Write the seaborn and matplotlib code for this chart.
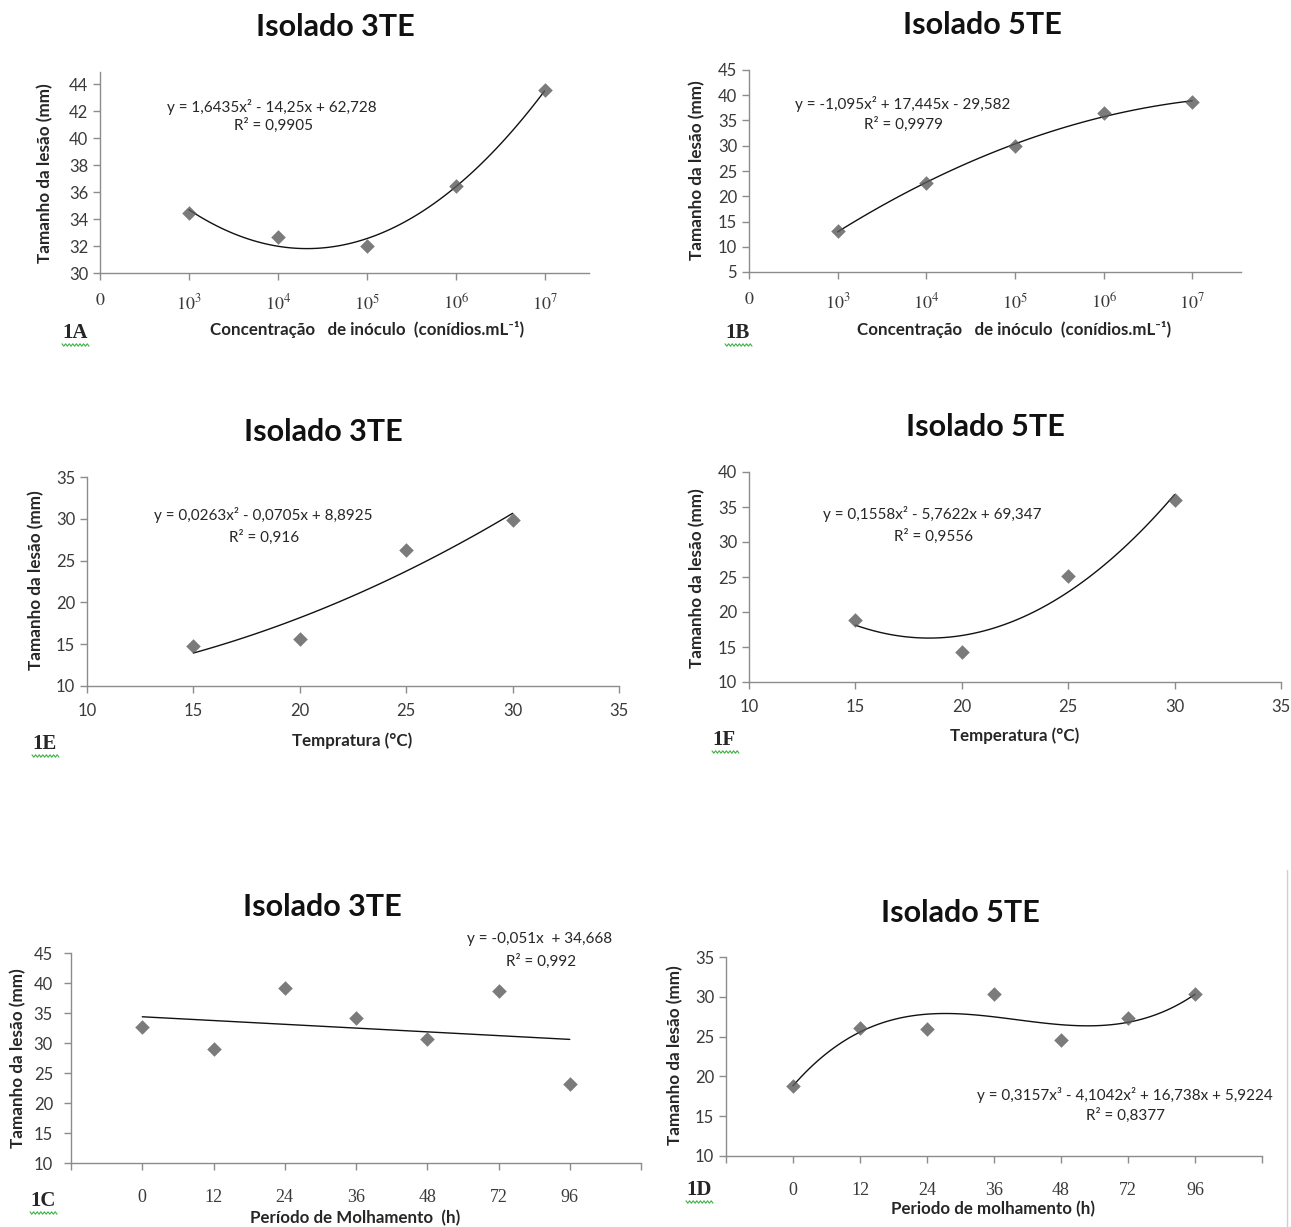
import numpy as np
import matplotlib
matplotlib.use("Agg")
import matplotlib.pyplot as plt
import seaborn as sns
from matplotlib.lines import Line2D

# 1A / 1B - concentracao de inoculo (expoente de 10)
conc_exp = [3, 4, 5, 6, 7]
conc_labels = ['$0$', '$10^{3}$', '$10^{4}$', '$10^{5}$', '$10^{6}$', '$10^{7}$']
lesao_conc_3te = [34.45, 32.65, 32.0, 36.45, 43.55]
lesao_conc_5te = [13.1, 22.6, 29.9, 36.5, 38.6]

# 1E / 1F - temperatura
temp = [15, 20, 25, 30]
lesao_temp_3te = [14.8, 15.6, 26.3, 29.8]
lesao_temp_5te = [18.9, 14.3, 25.2, 36.0]

# 1C / 1D - periodo de molhamento
molh_labels = ['0', '12', '24', '36', '48', '72', '96']
lesao_molh_3te = [32.6, 29.0, 39.25, 34.1, 30.65, 38.6, 23.2]
lesao_molh_5te = [18.8, 26.1, 25.9, 30.3, 24.6, 27.3, 30.3]
molh_pos = list(range(1, len(molh_labels) + 1))

sns.set_theme(style="white")
plt.rcParams['font.family'] = ['Lato', 'DejaVu Sans']
plt.rcParams['mathtext.fontset'] = 'stix'

W, H = 1291, 1227
fig = plt.figure(figsize=(W / 100, H / 100), dpi=100)

MK = '#5a5a5a'
SPINE = '#8c8c8c'
TXT = '#262626'


def make_ax(left, right, top, bottom):
    return fig.add_axes([left / W, 1 - bottom / H, (right - left) / W, (bottom - top) / H])


def ftext(x, y, s, **kw):
    kw.setdefault('ha', 'center')
    kw.setdefault('va', 'center')
    kw.setdefault('color', TXT)
    fig.text(x / W, 1 - y / H, s, **kw)


def squiggle(x0, x1, y):
    xs = np.linspace(x0, x1, 16)
    ys = y + np.array([1.2 if i % 2 else -1.2 for i in range(len(xs))])
    fig.add_artist(Line2D(xs / W, 1 - ys / H, color='#3cb043', lw=0.8))


def draw(ax, x, y, order):
    sns.regplot(x=x, y=y, order=order, ci=None, marker='D', ax=ax,
                scatter_kws=dict(color=MK, s=55, linewidths=0, zorder=3),
                line_kws=dict(color='#111111', lw=1.0, zorder=2))
    sns.despine(ax=ax)
    for s in ['left', 'bottom']:
        ax.spines[s].set_color(SPINE)
        ax.spines[s].set_linewidth(1.0)
    ax.tick_params(axis='both', direction='out', color=SPINE, length=5, width=1,
                   labelsize=12, labelcolor='#3a3a3a', left=True, bottom=True)
    ax.set_xlabel('')
    ax.set_ylabel('')


def panel_text(title, tx, ty, ylab_x, ylab_y, xlab, xlx, xly, tag, tagx, tagy,
               eq, eqx, eqy, r2, r2x, r2y):
    ftext(tx, ty, title, fontsize=22, fontweight='bold', color='#111111')
    ftext(ylab_x, ylab_y, 'Tamanho da lesão (mm)', fontsize=12.3, fontweight='bold', rotation=90)
    ftext(xlx, xly, xlab, fontsize=12.2, fontweight='bold')
    ftext(tagx, tagy, tag, fontsize=15, fontweight='bold', family='Liberation Serif', ha='left')
    squiggle(tagx, tagx + 27, tagy + 12)
    ftext(eqx, eqy, eq, fontsize=11)
    ftext(r2x, r2y, r2, fontsize=11)


# ---- 1A
ax = make_ax(100, 589, 72, 273)
draw(ax, conc_exp, lesao_conc_3te, 2)
ax.set_xlim(2, 7.5)
ax.set_ylim(30, 44.9)
ax.set_yticks(range(30, 45, 2))
ax.set_xticks(range(2, 8))
ax.set_xticklabels(conc_labels, fontsize=13)
ax.tick_params(axis='x', pad=9)
panel_text('Isolado 3TE', 335, 27, 45, 173, 'Concentração   de inóculo  (conídios.mL⁻¹)', 367, 329,
           '1A', 62, 333, 'y = 1,6435x² - 14,25x + 62,728', 272, 107, 'R² = 0,9905', 273, 125)

# ---- 1B
ax = make_ax(749, 1241, 70, 272)
draw(ax, conc_exp, lesao_conc_5te, 2)
ax.set_xlim(2, 7.55)
ax.set_ylim(5, 45)
ax.set_yticks(range(5, 46, 5))
ax.set_xticks(range(2, 8))
ax.set_xticklabels(conc_labels, fontsize=13)
ax.tick_params(axis='x', pad=9)
panel_text('Isolado 5TE', 982, 25, 697, 170, 'Concentração   de inóculo  (conídios.mL⁻¹)', 1014, 329,
           '1B', 725, 333, 'y = -1,095x² + 17,445x - 29,582', 903, 104, 'R² = 0,9979', 904, 124)

# ---- 1E
ax = make_ax(87, 619, 477, 686)
draw(ax, temp, lesao_temp_3te, 2)
ax.set_xlim(10, 35)
ax.set_ylim(10, 35)
ax.set_yticks(range(10, 36, 5))
ax.set_xticks(range(10, 36, 5))
ax.tick_params(axis='x', pad=7)
panel_text('Isolado 3TE', 323, 432, 36, 580, 'Tempratura (°C)', 352, 741,
           '1E', 32, 744, 'y = 0,0263x² - 0,0705x + 8,8925', 263, 515, 'R² = 0,916', 264, 537)

# ---- 1F
ax = make_ax(749, 1281, 472, 682)
draw(ax, temp, lesao_temp_5te, 2)
ax.set_xlim(10, 35)
ax.set_ylim(10, 40)
ax.set_yticks(range(10, 41, 5))
ax.set_xticks(range(10, 36, 5))
ax.tick_params(axis='x', pad=7)
panel_text('Isolado 5TE', 985, 427, 697, 578, 'Temperatura (°C)', 1015, 736,
           '1F', 712, 740, 'y = 0,1558x² - 5,7622x + 69,347', 932, 514, 'R² = 0,9556', 933, 536)

# ---- 1C
ax = make_ax(71, 641, 953, 1163)
draw(ax, molh_pos, lesao_molh_3te, 1)
ax.set_xlim(0, 8)
ax.set_ylim(10, 45)
ax.set_yticks(range(10, 46, 5))
ax.set_xticks(range(0, 9))
ax.set_xticklabels([''] + molh_labels + [''], family='Liberation Serif', fontsize=13)
ax.tick_params(axis='x', pad=14)
ax.tick_params(axis='y', pad=8)
panel_text('Isolado 3TE', 322, 907, 18, 1058, 'Período de Molhamento  (h)', 355, 1218,
           '1C', 30, 1201, 'y = -0,051x  + 34,668', 540, 939, 'R² = 0,992', 541, 961)

# ---- 1D
ax = make_ax(726, 1262, 957, 1156)
draw(ax, molh_pos, lesao_molh_5te, 3)
ax.set_xlim(0, 8)
ax.set_ylim(10, 35)
ax.set_yticks(range(10, 36, 5))
ax.set_xticks(range(0, 9))
ax.set_xticklabels([''] + molh_labels + [''], family='Liberation Serif', fontsize=13)
ax.tick_params(axis='x', pad=14)
panel_text('Isolado 5TE', 960, 913, 675, 1055, 'Periodo de molhamento (h)', 993, 1209,
           '1D', 686, 1190, 'y = 0,3157x³ - 4,1042x² + 16,738x + 5,9224', 1125, 1095,
           'R² = 0,8377', 1125, 1115)

# borda cinza do recorte original
fig.add_artist(Line2D([1287 / W, 1287 / W], [1 - 870 / H, 0], color='#d0d0d0', lw=1))

fig.savefig('out.png', dpi=100)
